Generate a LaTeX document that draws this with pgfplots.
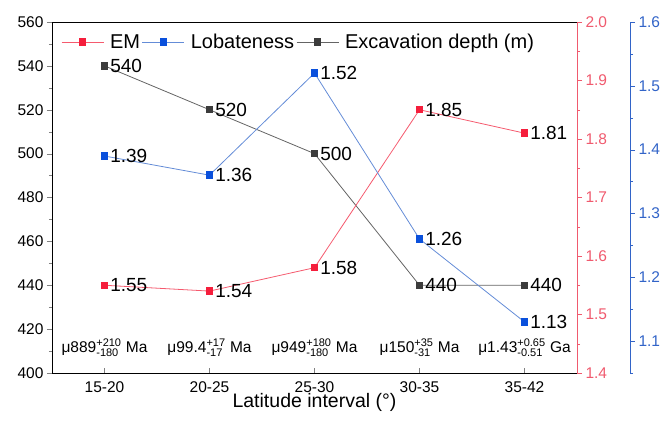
\documentclass[border=0pt]{standalone}
\usepackage{fontspec}
\setmainfont{Liberation Sans}
\usepackage{pgfplots}
\pgfplotsset{compat=1.18}
\definecolor{emred}{RGB}{245,30,60}
\definecolor{emline}{RGB}{245,90,110}
\definecolor{emaxis}{RGB}{240,90,110}
\definecolor{lobblue}{RGB}{10,80,220}
\definecolor{lobline}{RGB}{100,140,215}
\definecolor{lobaxis}{RGB}{50,100,200}
\definecolor{exgray}{RGB}{60,60,60}
\definecolor{exline}{RGB}{100,100,100}
\newcommand\ud[2]{\ensuremath{^{\mbox{\fontsize{11}{11}\selectfont #1}}_{\mbox{\fontsize{11}{11}\selectfont #2}}}}
\pgfplotsset{
  common/.style={scale only axis, width=525pt, height=351pt, xmin=-0.5, xmax=4.5,
    /pgf/number format/assume math mode=true,
    tick label style={font=\fontsize{15.5}{15.5}\selectfont},
    major tick length=5pt, minor tick length=3pt, tick align=outside,
    clip=false,
    nodes near coords,
    every node near coord/.append style={anchor=west, xshift=2.5pt, font=\fontsize{19}{19}\selectfont, text=black},
  },
  mk/.style={line width=0.8pt, mark=square*, mark size=3.2pt, mark options={draw=#1, fill=#1, line width=0pt}},
}
\begin{document}
\begin{tikzpicture}
% left axis + excavation depth
\begin{axis}[common,
  axis y line*=left, axis x line*=bottom,
  ymin=400, ymax=560, ytick={400,420,...,560}, minor y tick num=1,
  xtick={0,1,2,3,4}, xticklabels={15-20,20-25,25-30,30-35,35-42},
  xtick style={yshift=5pt},
  xlabel={Latitude interval (°)}, xlabel style={font=\fontsize{19.5}{19.5}\selectfont, yshift=6pt},
  legend style={at={(rel axis cs:0,1)}, anchor=north west, xshift=6pt, yshift=-8pt,
     draw=none, fill=none, font=\fontsize{20}{20}\selectfont,
     /tikz/every odd column/.append style={column sep=4pt},
     /tikz/every even column/.append style={column sep=0pt}},
  legend columns=3,
  legend image code/.code={\draw[#1] (0pt,0pt) -- (42pt,0pt); \draw[#1, only marks] plot coordinates {(21pt,0pt)};},
  ]
\draw[black, line width=0.8pt] (rel axis cs:0,1) -- (rel axis cs:1,1);
\addlegendimage{emline, mk=emred}
\addlegendentry{EM}
\addlegendimage{lobline, mk=lobblue}
\addlegendentry{Lobateness}
\addplot[exline, mk=exgray]
  coordinates {(0,540) (1,520) (2,500) (3,440) (4,440)};
\addlegendentry{Excavation depth (m)}
\node[font=\fontsize{15.5}{15.5}\selectfont] at (axis cs:0,411.5) {μ889\ud{+210}{-180} Ma};
\node[font=\fontsize{15.5}{15.5}\selectfont] at (axis cs:1,411.5) {μ99.4\ud{+17}{-17} Ma};
\node[font=\fontsize{15.5}{15.5}\selectfont] at (axis cs:2,411.5) {μ949\ud{+180}{-180} Ma};
\node[font=\fontsize{15.5}{15.5}\selectfont] at (axis cs:3,411.5) {μ150\ud{+35}{-31} Ma};
\node[font=\fontsize{15.5}{15.5}\selectfont] at (axis cs:4,411.5) {μ1.43\ud{+0.65}{-0.51} Ga};
\end{axis}
% red EM axis
\begin{axis}[common,
  axis y line*=right, axis x line=none,
  ymin=1.4, ymax=2.0, ytick={1.4,1.5,...,2.0}, minor y tick num=1,
  yticklabel style={text=emaxis, /pgf/number format/.cd, fixed, fixed zerofill, precision=1},
  y axis line style={draw=emaxis, line width=0.8pt}, ytick style={draw=emaxis},
  ]
\addplot[emline, mk=emred]
  coordinates {(0,1.55) (1,1.54) (2,1.58) (3,1.85) (4,1.81)};
\end{axis}
% blue lobateness axis
\begin{axis}[common,
  axis y line*=right, axis x line=none, axis y line shift=53pt,
  ymin=1.05, ymax=1.6, ytick={1.1,1.2,...,1.6}, minor ytick={1.05,1.15,...,1.55},
  yticklabel style={text=lobaxis, /pgf/number format/.cd, fixed, fixed zerofill, precision=1},
  y axis line style={draw=lobaxis, line width=0.8pt}, ytick style={draw=lobaxis},
  ]
\addplot[lobline, mk=lobblue]
  coordinates {(0,1.39) (1,1.36) (2,1.52) (3,1.26) (4,1.13)};
\end{axis}
\pgfresetboundingbox
\path[use as bounding box] (-52pt,-47pt) rectangle (614pt,373pt);
\end{tikzpicture}
\end{document}
